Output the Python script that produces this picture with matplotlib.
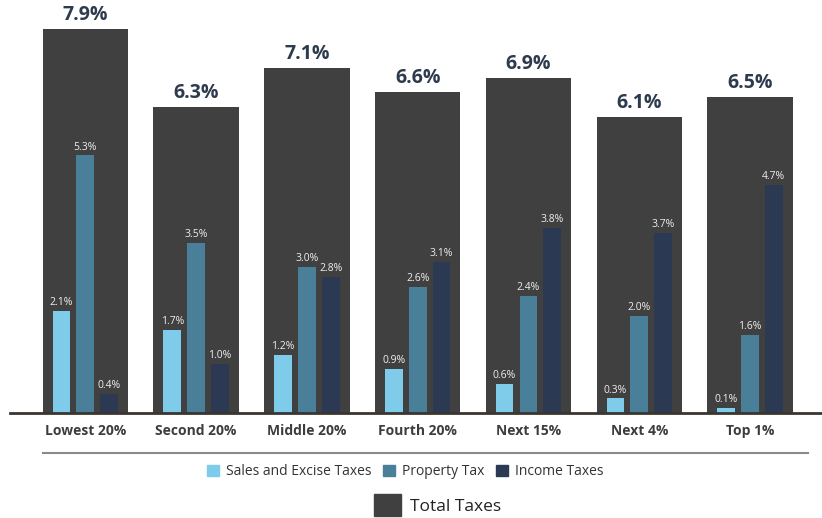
import matplotlib.pyplot as plt
import matplotlib.patches as mpatches
import numpy as np

plt.rcParams['font.family'] = ['Open Sans', 'DejaVu Sans']

groups = ["Lowest 20%", "Second 20%", "Middle 20%", "Fourth 20%", "Next 15%", "Next 4%", "Top 1%"]
total = [7.9, 6.3, 7.1, 6.6, 6.9, 6.1, 6.5]
sales = [2.1, 1.7, 1.2, 0.9, 0.6, 0.3, 0.1]
prop = [5.3, 3.5, 3.0, 2.6, 2.4, 2.0, 1.6]
income = [0.4, 1.0, 2.8, 3.1, 3.8, 3.7, 4.7]

c_total = "#404040"
c_sales = "#7ecbea"
c_prop = "#4a7f99"
c_income = "#2b3a52"
c_label = "#2e3a4e"

fig = plt.figure(figsize=(8.22, 5.18), dpi=100)
ax = fig.add_axes([10/822, 105/518, 812/822, 413/518])

x = np.arange(len(groups))
ax.bar(x, total, width=0.77, color=c_total, zorder=1)
w = 0.16
off = 0.215
ax.bar(x - off, sales, width=w, color=c_sales, zorder=2)
ax.bar(x, prop, width=w, color=c_prop, zorder=2)
ax.bar(x + off, income, width=w, color=c_income, zorder=2)

for i in range(len(groups)):
    ax.text(x[i], total[i] + 0.08, "%.1f%%" % total[i], ha="center", va="bottom",
            fontsize=14, fontweight="bold", color=c_label)
    for xs, v in [(x[i] - off, sales[i]), (x[i], prop[i]), (x[i] + off, income[i])]:
        ax.text(xs, v + 0.06, "%.1f%%" % v, ha="center", va="bottom",
                fontsize=7.5, color="#eeeeee")

ax.set_xlim(-0.68, 6.65)
ax.set_ylim(0, 8.5)
for s in ["top", "right", "left"]:
    ax.spines[s].set_visible(False)
ax.spines["bottom"].set_color("#3a3530")
ax.spines["bottom"].set_linewidth(2)
ax.set_yticks([])
ax.set_xticks(x)
ax.set_xticklabels(groups, fontsize=10, fontweight="bold", color="#3d3d3d")
ax.tick_params(axis="x", length=0, pad=8)

# separator line under the category labels
fig.add_artist(plt.Line2D([43/822, 808/822], [65/518, 65/518], color="#8a8a8a", lw=1.5))

h1 = [mpatches.Patch(color=c_sales, label="Sales and Excise Taxes"),
      mpatches.Patch(color=c_prop, label="Property Tax"),
      mpatches.Patch(color=c_income, label="Income Taxes")]
fig.legend(handles=h1, loc="center", bbox_to_anchor=(0.493, 0.089), ncol=3,
           frameon=False, fontsize=10, handlelength=0.9, handleheight=0.9,
           handletextpad=0.5, columnspacing=0.8, labelcolor="#333333")
h2 = [mpatches.Patch(color=c_total, label="Total Taxes")]
fig.legend(handles=h2, loc="center", bbox_to_anchor=(0.532, 0.025),
           frameon=False, fontsize=12.5, handlelength=1.6, handleheight=1.5,
           handletextpad=0.5, labelcolor="#222222")

fig.savefig("out.png", dpi=100)
